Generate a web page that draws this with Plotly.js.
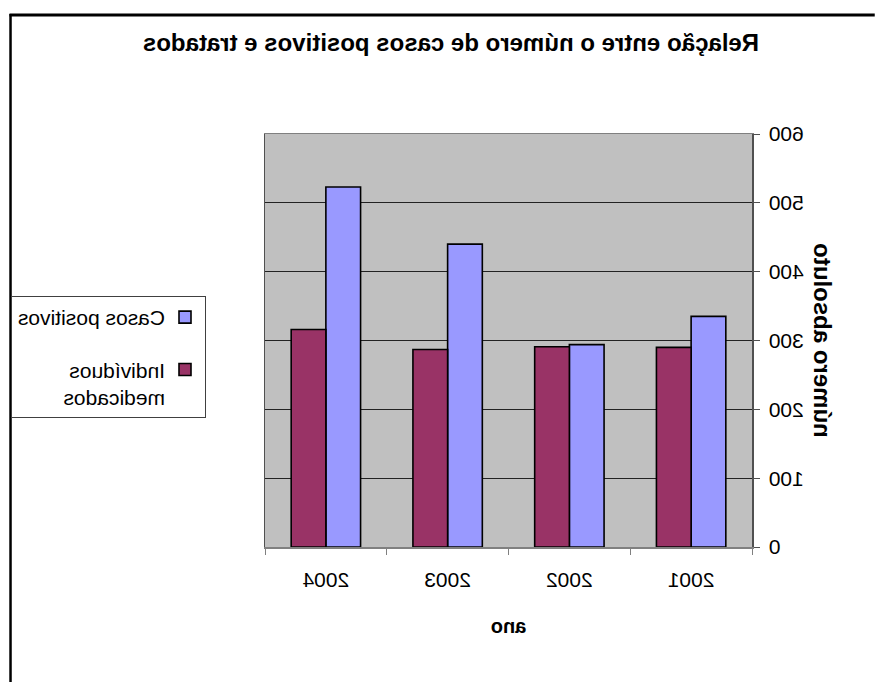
<!DOCTYPE html>
<html>
<head>
<meta charset="utf-8">
<script src="https://cdn.plot.ly/plotly-3.0.1.min.js"></script>
<style>
  html, body { margin: 0; padding: 0; background: #ffffff; overflow: hidden; }
  /* The reference picture is a horizontally mirrored chart */
  #chart { width: 875px; height: 682px; transform: scaleX(-1); transform-origin: center center; }
</style>
</head>
<body>
<div id="chart"></div>
<script>
const years = ['2001', '2002', '2003', '2004'];
const casosPositivos = [335, 294, 440, 523];
const individuosMedicados = [290, 291, 287, 316];
const seriesNames = ['Casos positivos', 'Indivíduos<br>medicados'];
const chartTitle = 'Relação entre o número de casos positivos e tratados';
const xTitle = 'ano';
const yTitle = 'número absoluto';

const FONT = 'Liberation Sans, Arial, sans-serif';

const traces = [
  {
    type: 'bar', x: years, y: casosPositivos, name: seriesNames[0], legendgroup: 'a',
    marker: { color: '#9999FF', line: { color: '#000000', width: 1.6 } }
  },
  {
    type: 'bar', x: years, y: individuosMedicados, name: seriesNames[1], legendgroup: 'b',
    marker: { color: '#993366', line: { color: '#000000', width: 1.6 } }
  }
];

const P = { l: 123, r: 611, t: 134, b: 547 };
const px = v => (v - P.l) / (P.r - P.l);
const py = v => (P.b - v) / (P.b - P.t);

const layout = {
  width: 875, height: 682,
  margin: { l: 123, r: 264, t: 134, b: 135 },
  paper_bgcolor: '#ffffff',
  plot_bgcolor: '#C0C0C0',
  barmode: 'group',
  bargap: 0.43,
  bargroupgap: 0,
  font: { family: FONT, size: 20, color: '#000000' },
  title: {
    text: '<b>' + chartTitle + '</b>',
    font: { family: FONT, size: 24, color: '#000000' },
    xref: 'container', x: 0.4846, xanchor: 'center',
    yref: 'container', y: 0.938, yanchor: 'middle'
  },
  xaxis: {
    type: 'category',
    showline: true, linecolor: '#808080', linewidth: 1.5, mirror: true,
    ticks: 'outside', ticklen: 6, tickcolor: '#808080', tickwidth: 1,
    tickson: 'boundaries',
    tickfont: { family: FONT, size: 21 },
    ticklabelstandoff: 13,
    showgrid: false,
    title: { text: '<b>' + xTitle + '</b>', font: { family: FONT, size: 20 }, standoff: 29 }
  },
  yaxis: {
    range: [0, 600], dtick: 100,
    showline: true, linecolor: '#505050', linewidth: 1.5, mirror: true,
    ticks: 'outside', ticklen: 6, tickcolor: '#505050', tickwidth: 1,
    tickfont: { family: FONT, size: 21 },
    ticklabelstandoff: 5,
    showgrid: true, gridcolor: '#222222', gridwidth: 1,
    zeroline: false,
    title: { text: '<b>' + yTitle + '</b>', font: { family: FONT, size: 24 }, standoff: 3 }
  },
  showlegend: true,
  legend: {
    x: px(669), xanchor: 'left',
    y: py(296), yanchor: 'top',
    bgcolor: '#ffffff', bordercolor: '#404040', borderwidth: 1,
    font: { family: FONT, size: 21 },
    traceorder: 'grouped', tracegroupgap: 22,
    valign: 'top'
  },
  shapes: [
    { type: 'line', xref: 'paper', yref: 'paper', x0: px(0), x1: px(867), y0: py(15), y1: py(15),
      line: { color: '#000000', width: 3 } },
    { type: 'line', xref: 'paper', yref: 'paper', x0: px(866), x1: px(866), y0: py(14), y1: py(700),
      line: { color: '#000000', width: 2.5 } }
  ]
};

Plotly.newPlot('chart', traces, layout, { displayModeBar: false, staticPlot: true });
</script>
</body>
</html>
